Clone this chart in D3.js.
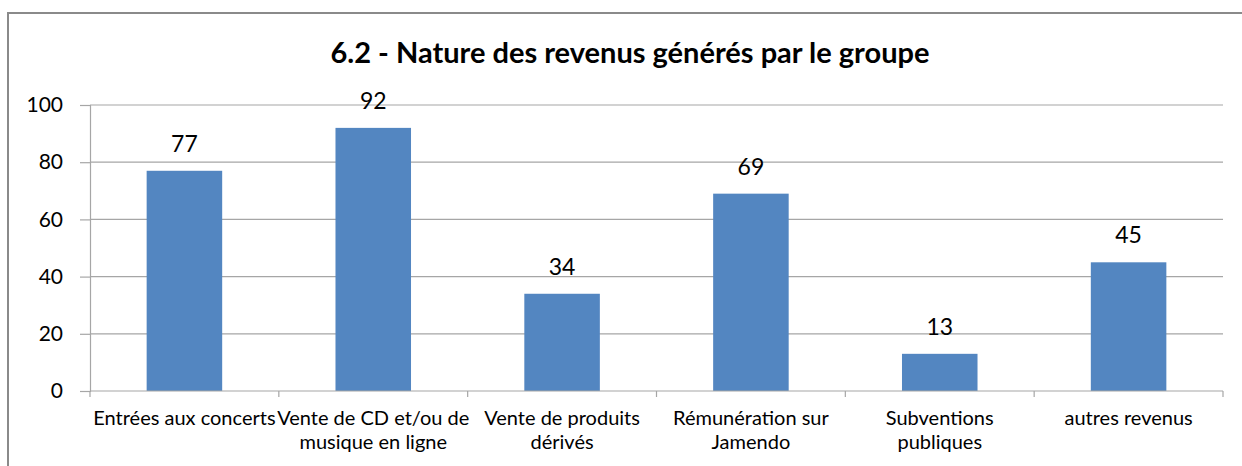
<!DOCTYPE html>
<html>
<head>
  <meta charset="UTF-8">
  <title>6.2 - Nature des revenus</title>
  <style>
    body { margin: 0; background: #fff; }
    svg text { font-family: Lato, "Open Sans", sans-serif; fill: #000; }
  </style>
</head>
<body>
  <div id="chart"></div>
  <script src="https://d3js.org/d3.v7.min.js"></script>
  <script>
    // data
    const categories = [
      "Entrées aux concerts",
      "Vente de CD et/ou de\nmusique en ligne",
      "Vente de produits\ndérivés",
      "Rémunération sur\nJamendo",
      "Subventions\npubliques",
      "autres revenus"
    ];
    const values = [77, 92, 34, 69, 13, 45];
    const yTicks = [0, 20, 40, 60, 80, 100];
    const title = "6.2 - Nature des revenus générés par le groupe";

    const width = 1242, height = 466;
    const plotLeft = 90, plotRight = 1223, plotTop = 105, plotBottom = 391;

    const svg = d3.select("#chart").append("svg")
      .attr("width", width)
      .attr("height", height);

    // outer frame of the chart
    svg.append("rect")
      .attr("x", 8).attr("y", 13)
      .attr("width", 1300).attr("height", 500)
      .attr("fill", "none")
      .attr("stroke", "#8a8a8a")
      .attr("stroke-width", 2);

    svg.append("text")
      .attr("x", 630).attr("y", 63)
      .attr("text-anchor", "middle")
      .attr("font-size", "29px")
      .attr("font-weight", "bold")
      .text(title);

    const x = d3.scaleBand()
      .domain(categories)
      .range([plotLeft, plotRight])
      .paddingInner(0.6)
      .paddingOuter(0.3);

    const y = d3.scaleLinear()
      .domain([0, 100])
      .range([plotBottom, plotTop]);

    // gridlines
    svg.append("g")
      .selectAll("line")
      .data(yTicks.filter(d => d > 0))
      .enter().append("line")
      .attr("x1", plotLeft).attr("x2", plotRight)
      .attr("y1", d => y(d)).attr("y2", d => y(d))
      .attr("stroke", "#a6a6a6")
      .attr("stroke-width", 1.2);

    // y axis
    const yAxis = svg.append("g")
      .attr("transform", `translate(${plotLeft},0)`)
      .call(d3.axisLeft(y).tickValues(yTicks).tickSize(10).tickPadding(17));
    yAxis.select(".domain").attr("stroke", "#a6a6a6").attr("stroke-width", 1.2);
    yAxis.selectAll(".tick line").attr("stroke", "#a6a6a6").attr("stroke-width", 1.2);
    yAxis.selectAll(".tick text")
      .attr("font-size", "21px")
      .attr("font-family", "Lato, sans-serif")
      .attr("fill", "#000");

    // bars
    svg.append("g")
      .selectAll("rect")
      .data(values)
      .enter().append("rect")
      .attr("x", (d, i) => x(categories[i]))
      .attr("y", d => y(d))
      .attr("width", x.bandwidth())
      .attr("height", d => y(0) - y(d))
      .attr("fill", "#5386c1");

    // value labels
    svg.append("g")
      .selectAll("text")
      .data(values)
      .enter().append("text")
      .attr("x", (d, i) => x(categories[i]) + x.bandwidth() / 2)
      .attr("y", d => y(d) - 19)
      .attr("text-anchor", "middle")
      .attr("font-size", "23px")
      .text(d => d);

    // x axis
    const step = x.step();
    const xAxis = svg.append("g").attr("transform", `translate(0,${plotBottom})`);
    xAxis.append("line")
      .attr("x1", plotLeft).attr("x2", plotRight)
      .attr("stroke", "#a6a6a6").attr("stroke-width", 1.2);
    xAxis.selectAll(".xt")
      .data(d3.range(categories.length + 1))
      .enter().append("line")
      .attr("class", "xt")
      .attr("x1", i => plotLeft + i * step).attr("x2", i => plotLeft + i * step)
      .attr("y1", 0).attr("y2", 6)
      .attr("stroke", "#a6a6a6").attr("stroke-width", 1.2);

    const labels = xAxis.selectAll(".xl")
      .data(categories)
      .enter().append("text")
      .attr("class", "xl")
      .attr("x", d => x(d) + x.bandwidth() / 2)
      .attr("y", 34)
      .attr("text-anchor", "middle")
      .attr("font-size", "20px");
    labels.selectAll("tspan")
      .data(d => d.split("\n"))
      .enter().append("tspan")
      .attr("x", function() { return this.parentNode.getAttribute("x"); })
      .attr("dy", (d, i) => i === 0 ? 0 : 24)
      .text(d => d);
  </script>
</body>
</html>
